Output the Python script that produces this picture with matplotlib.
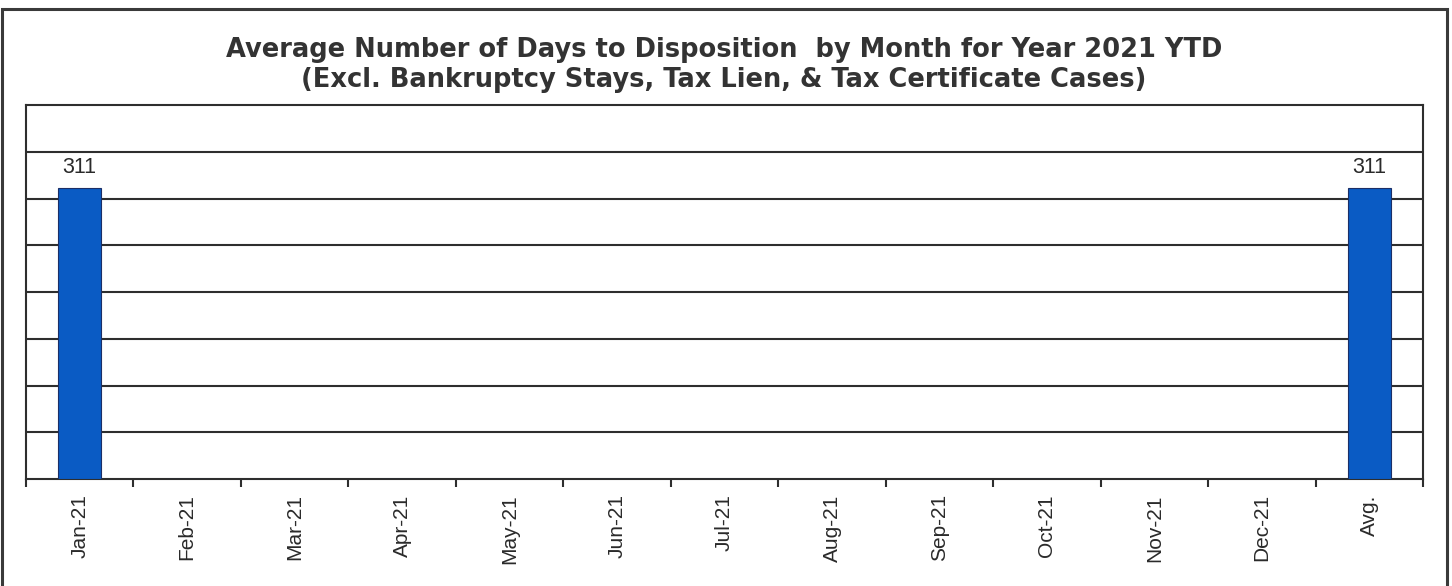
import numpy as np
import matplotlib
matplotlib.use("Agg")
import matplotlib.pyplot as plt
from matplotlib.patches import Rectangle

months = ["Jan-21", "Feb-21", "Mar-21", "Apr-21", "May-21", "Jun-21", "Jul-21",
          "Aug-21", "Sep-21", "Oct-21", "Nov-21", "Dec-21", "Avg."]
days = [311, np.nan, np.nan, np.nan, np.nan, np.nan, np.nan,
        np.nan, np.nan, np.nan, np.nan, np.nan, 311]

TITLE_1 = "Average Number of Days to Disposition  by Month for Year 2021 YTD"
TITLE_2 = "(Excl. Bankruptcy Stays, Tax Lien, & Tax Certificate Cases)"

plt.rcParams["font.family"] = ["Liberation Sans", "DejaVu Sans"]

W, H = 1452, 586
fig = plt.figure(figsize=(W / 100, H / 100), dpi=100)
ax = fig.add_axes([26 / W, 1 - 479 / H, (1423 - 26) / W, (479 - 105) / H])

x = np.arange(len(months))
vals = np.array(days, dtype=float)
ax.bar(x, np.nan_to_num(vals), width=0.40, color="#0a5bc4",
       edgecolor="#1c2f66", linewidth=0.8, zorder=3)
for xi, v in zip(x, vals):
    if not np.isnan(v):
        ax.text(xi, v + 16, f"{v:.0f}", ha="center", va="baseline",
                fontsize=15.5, color="#2a2a2a", zorder=4)

ax.set_xlim(-0.5, len(months) - 0.5)
ax.set_ylim(0, 400)
ax.set_yticks(np.arange(50, 400, 50))
ax.tick_params(axis="y", length=0, labelleft=False)
ax.yaxis.grid(True, color="#2e2e2e", linewidth=1.5, zorder=1)

ax.set_xticks(x)
ax.set_xticklabels(months, rotation=90, fontsize=15, color="#2a2a2a")
ax.set_xticks(np.arange(-0.5, len(months), 1.0), minor=True)
ax.tick_params(axis="x", which="major", length=0, pad=11)
ax.tick_params(axis="x", which="minor", length=6, width=1.5, color="#2e2e2e",
               direction="out")

for s in ax.spines.values():
    s.set_color("#2e2e2e")
    s.set_linewidth(1.5)

cx = 724 / W
fig.text(cx, 1 - 57 / H, TITLE_1, ha="center", va="baseline", fontsize=18.5,
         fontweight="bold", color="#333333", family="DejaVu Sans")
fig.text(cx, 1 - 87 / H, TITLE_2, ha="center", va="baseline", fontsize=18.5,
         fontweight="bold", color="#333333", family="DejaVu Sans")

# outer chart frame (scan shows border on top, left, right)
fig.add_artist(Rectangle((2 / W, -0.02), (1447 - 2) / W, 1 - 9 / H + 0.02,
                         transform=fig.transFigure, fill=False,
                         edgecolor="#3a3a3a", linewidth=2.2, clip_on=False))

fig.savefig("out.png", dpi=100)
plt.close(fig)
